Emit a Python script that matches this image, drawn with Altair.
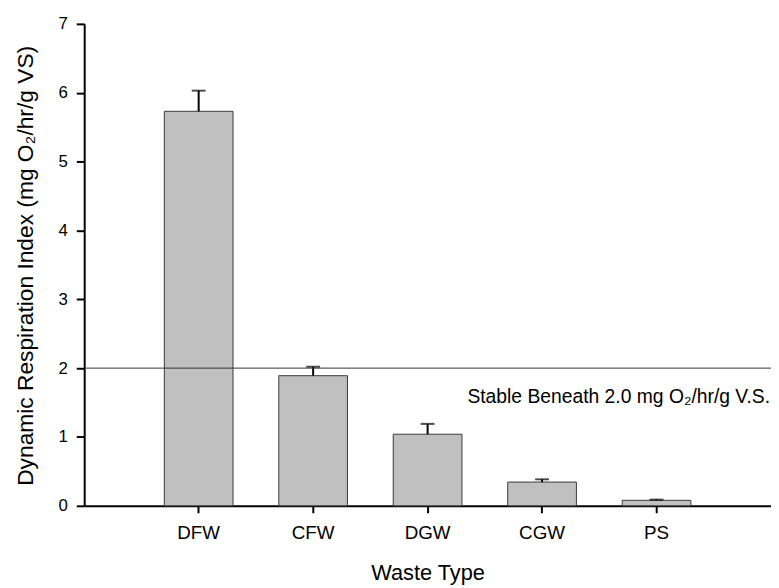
import altair as alt
import pandas as pd

categories = ["DFW", "CFW", "DGW", "CGW", "PS"]
means = [5.73, 1.89, 1.04, 0.345, 0.08]
errors = [0.30, 0.13, 0.15, 0.04, 0.01]
threshold = 2.0
threshold_label = "Stable Beneath 2.0 mg O₂/hr/g V.S."
y_ticks = [0, 1, 2, 3, 4, 5, 6, 7]

df = pd.DataFrame({"cat": categories, "mean": means, "err": errors})
df["top"] = df["mean"] + df["err"]

FONT = "Liberation Sans"
W, H = 694, 487

x_enc = alt.X(
    "cat:N",
    sort=categories,
    scale=alt.Scale(paddingInner=0.4, paddingOuter=0.7),
    axis=alt.Axis(
        title="Waste Type",
        labelAngle=0,
        labelFontSize=19,
        labelPadding=11,
        tickSize=7,
        tickWidth=2,
        domainWidth=2,
        titleFontSize=22,
        titleY=57,
        titleBaseline="top",
    ),
)
y_scale = alt.Scale(domain=[0, 7], nice=False)
y_axis = alt.Axis(
    title="Dynamic Respiration Index (mg O₂/hr/g VS)",
    values=y_ticks,
    format="d",
    labelFontSize=17,
    labelPadding=9,
    tickSize=8,
    tickWidth=2,
    domainWidth=2,
    grid=False,
    titleFontSize=23,
    titleAngle=-90,
    titleX=-52,
    titleY=244,
    titleAlign="center",
    titleBaseline="alphabetic",
)

base = alt.Chart(df)

bars = base.mark_bar(color="#c0c0c0", stroke="#3a3a3a", strokeWidth=1).encode(
    x=x_enc,
    y=alt.Y("mean:Q", scale=y_scale, axis=y_axis),
)
err_rule = base.mark_rule(color="black", strokeWidth=2).encode(
    x=alt.X("cat:N", sort=categories),
    y=alt.Y("mean:Q"),
    y2="top:Q",
)
caps = base.mark_tick(color="black", thickness=2, size=14, orient="horizontal").encode(
    x=alt.X("cat:N", sort=categories),
    y=alt.Y("top:Q"),
)
hline = alt.Chart(pd.DataFrame({"v": [threshold]})).mark_rule(
    color="#333333", strokeWidth=1
).encode(y=alt.Y("v:Q"))
label = alt.Chart(pd.DataFrame({"v": [1.5], "t": [threshold_label]})).mark_text(
    align="right", baseline="alphabetic", fontSize=19.5, font=FONT, color="black", dx=-1
).encode(x=alt.value(W), y=alt.Y("v:Q"), text="t:N")

chart = (
    alt.layer(bars, err_rule, caps, hline, label)
    .properties(
        width=W,
        height=H,
        autosize=alt.AutoSizeParams(type="none"),
        padding={"left": 77, "top": 13, "right": 0, "bottom": 80},
    )
    .configure(font=FONT)
    .configure_view(stroke=None)
    .configure_axis(
        labelColor="black",
        titleColor="black",
        domainColor="black",
        tickColor="black",
        titleFontWeight="normal",
        labelFont=FONT,
        titleFont=FONT,
    )
)

chart.save("out.html", embed_options={"renderer": "svg", "actions": False})
